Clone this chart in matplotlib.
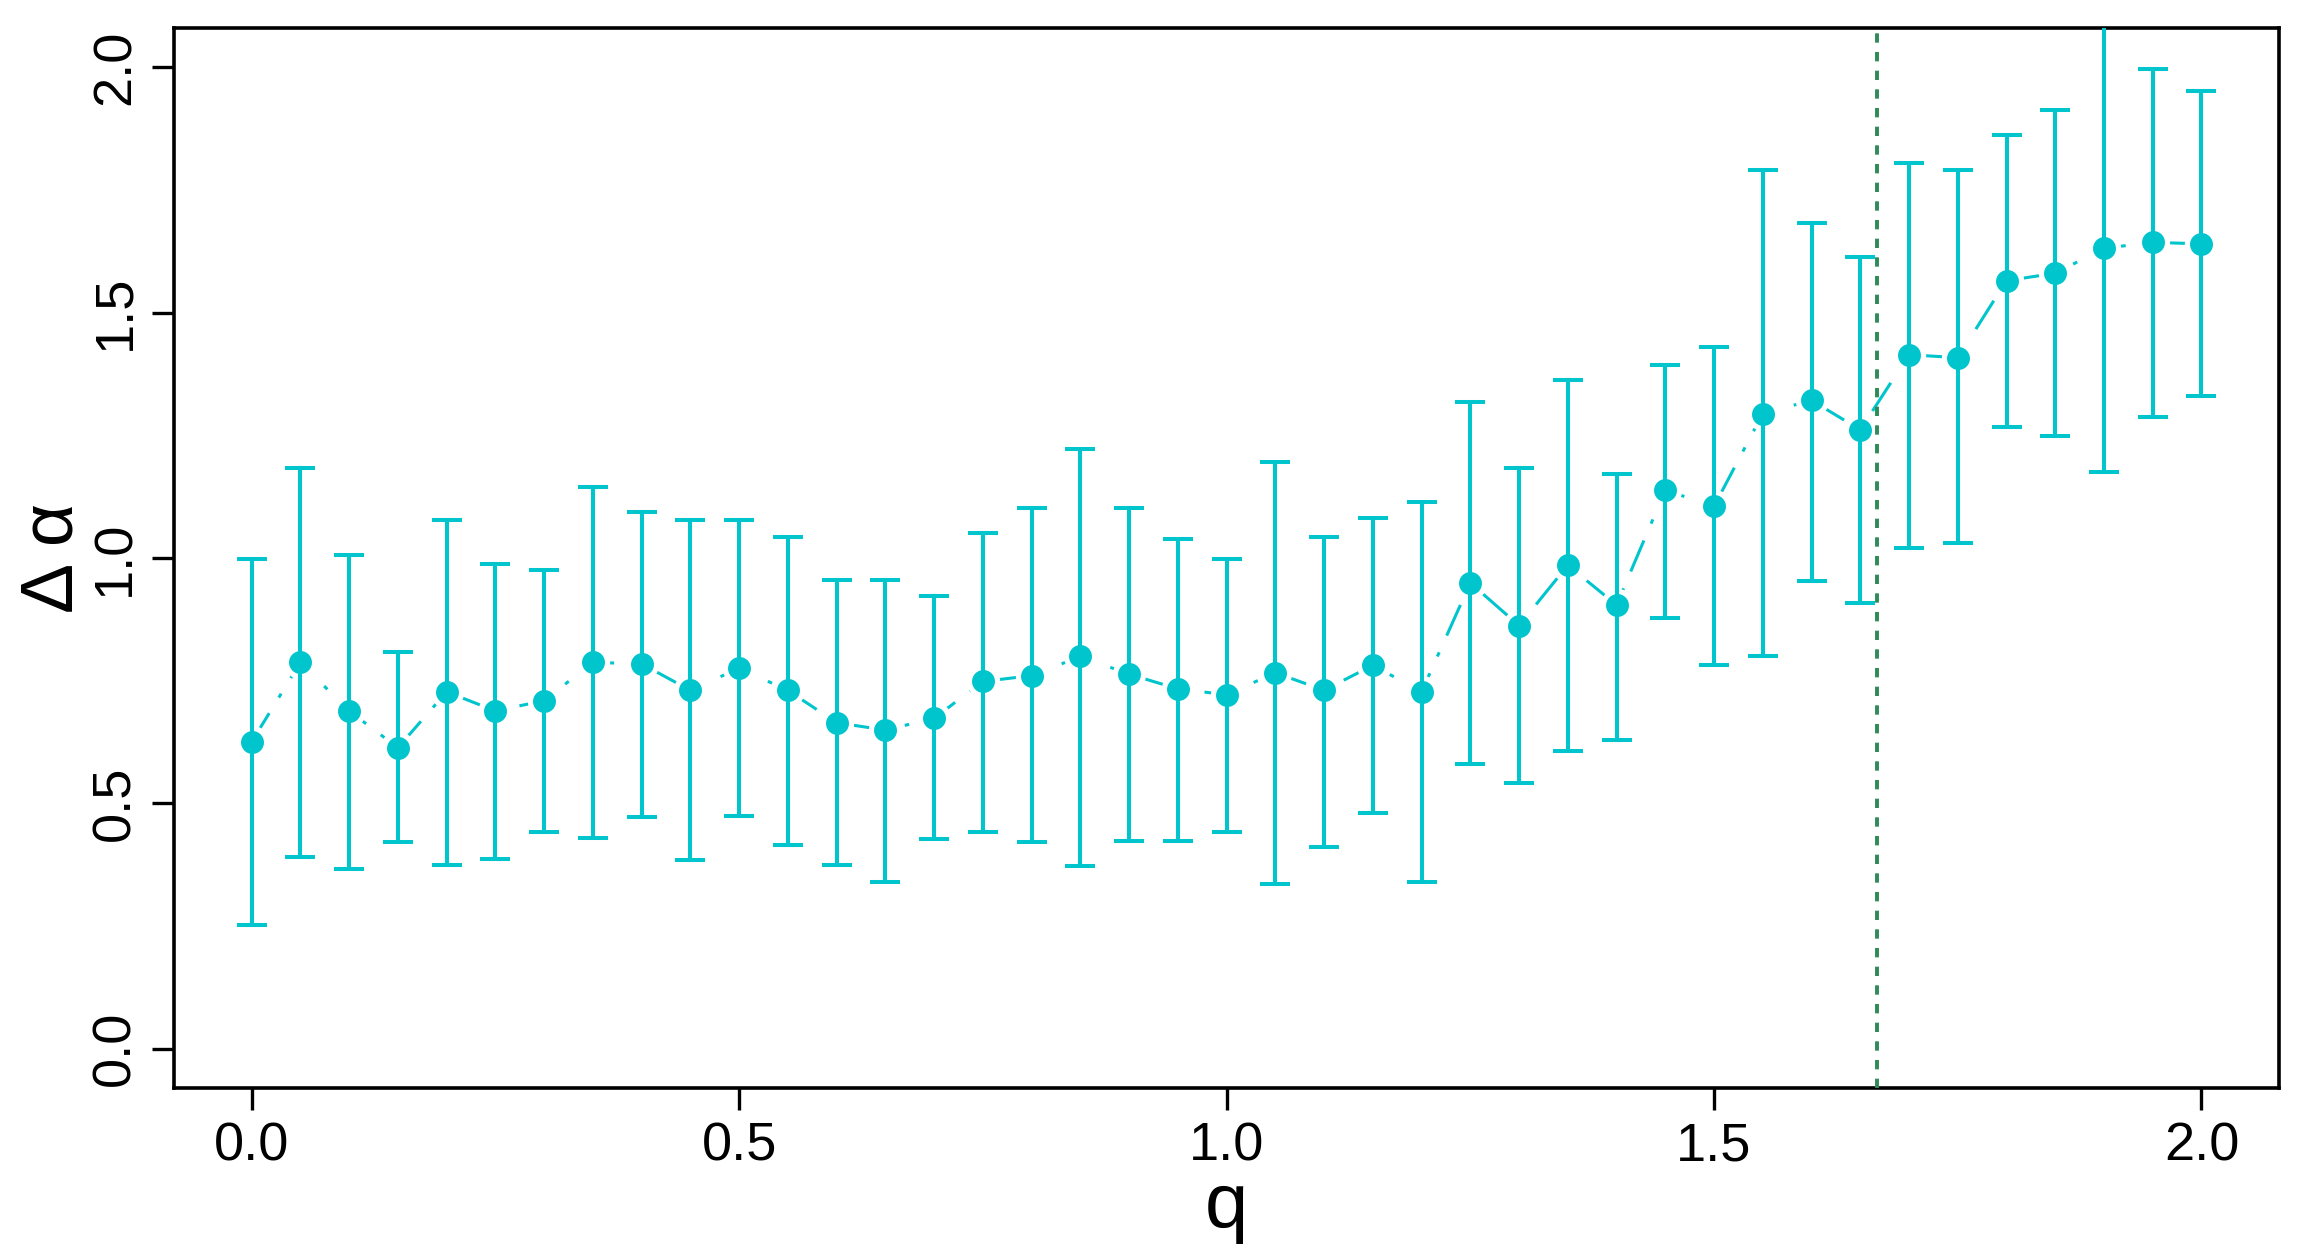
import numpy as np
import matplotlib
matplotlib.use("Agg")
import matplotlib.pyplot as plt

# q values and Delta alpha with lower / upper bounds
q = [0.00, 0.05, 0.10, 0.15, 0.20, 0.25, 0.30, 0.35, 0.40, 0.45,
     0.50, 0.55, 0.60, 0.65, 0.70, 0.75, 0.80, 0.85, 0.90, 0.95,
     1.00, 1.05, 1.10, 1.15, 1.20, 1.25, 1.30, 1.35, 1.40, 1.45,
     1.50, 1.55, 1.60, 1.65, 1.70, 1.75, 1.80, 1.85, 1.90, 1.95, 2.00]
delta_alpha = [0.625, 0.787, 0.688, 0.613, 0.727, 0.688, 0.709, 0.787, 0.784, 0.730,
               0.775, 0.730, 0.664, 0.649, 0.673, 0.748, 0.760, 0.799, 0.763, 0.733,
               0.721, 0.766, 0.730, 0.781, 0.727, 0.949, 0.862, 0.985, 0.904, 1.138,
               1.105, 1.294, 1.321, 1.261, 1.414, 1.408, 1.565, 1.580, 1.631, 1.643, 1.640]
lower = [0.252, 0.390, 0.366, 0.420, 0.375, 0.387, 0.441, 0.429, 0.471, 0.384,
         0.474, 0.414, 0.375, 0.339, 0.426, 0.441, 0.420, 0.372, 0.423, 0.423,
         0.441, 0.336, 0.411, 0.480, 0.339, 0.580, 0.541, 0.607, 0.628, 0.877,
         0.781, 0.799, 0.952, 0.907, 1.021, 1.030, 1.267, 1.249, 1.174, 1.288, 1.330]
upper = [0.997, 1.183, 1.006, 0.808, 1.078, 0.988, 0.976, 1.144, 1.093, 1.078,
         1.078, 1.042, 0.955, 0.955, 0.922, 1.051, 1.102, 1.222, 1.102, 1.039,
         0.997, 1.195, 1.042, 1.081, 1.114, 1.318, 1.183, 1.363, 1.171, 1.393,
         1.429, 1.790, 1.682, 1.613, 1.805, 1.790, 1.862, 1.913, 2.090, 1.997, 1.952]
q_cut = 1.667

y_ticks = [0.0, 0.5, 1.0, 1.5, 2.0]
x_ticks = [0.0, 0.5, 1.0, 1.5, 2.0]

cyan = "#00C5CD"
green = "#2E8B57"

plt.rcParams['font.family'] = ['Liberation Sans', 'DejaVu Sans']

q = np.array(q)
da = np.array(delta_alpha)
yerr = np.vstack([da - np.array(lower), np.array(upper) - da])

fig = plt.figure(figsize=(23.06, 12.48), dpi=100)
ax = fig.add_axes([0.0753, 0.1284, 0.9132, 0.8492])

# connecting line (R type="b": small gaps around the points)
ax.plot(q, da, color=cyan, lw=2.2, linestyle=(0, (11, 6, 1.5, 6)), zorder=1)
ax.plot(q, da, linestyle='none', marker='o', ms=23, mfc='white', mec='white', zorder=2)
ax.errorbar(q, da, yerr=yerr, fmt='none', ecolor=cyan, elinewidth=2.9,
            capsize=10.8, capthick=2.9, zorder=3)
ax.plot(q, da, linestyle='none', marker='o', ms=15.5, color=cyan, zorder=4)

ax.axvline(q_cut, color=green, lw=2.8, linestyle=(0, (2.4, 2.4)), zorder=5)

ax.set_xlim(-0.08, 2.08)
ax.set_ylim(-0.08, 2.08)
ax.set_xticks(x_ticks)
ax.set_xticklabels(["%.1f" % v for v in x_ticks])
ax.set_yticks(y_ticks)
ax.set_yticklabels(["%.1f" % v for v in y_ticks], rotation=90, va='center')

for s in ax.spines.values():
    s.set_linewidth(2.6)
ax.tick_params(axis='both', direction='out', length=16, width=2.4,
               labelsize=39, color='black')
ax.tick_params(axis='x', pad=8)
ax.tick_params(axis='y', pad=8)

ax.set_xlabel("q", fontsize=56, labelpad=0)
ax.set_ylabel("Δ α", fontsize=54, labelpad=2)

fig.savefig("out.png", dpi=100)
